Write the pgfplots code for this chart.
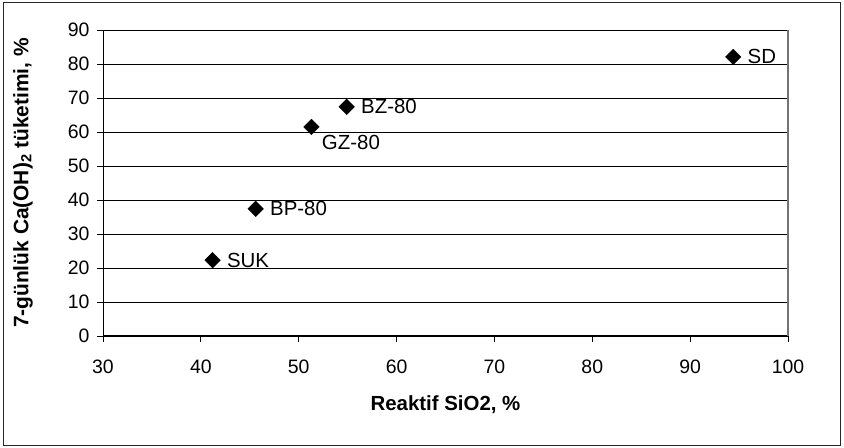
\documentclass[border=0pt]{standalone}
\usepackage{pgfplots}
\pgfplotsset{compat=1.18}
\usepackage{fontspec}
\setmainfont{Liberation Sans}
\begin{document}
\begin{tikzpicture}[x=1bp,y=1bp]
\useasboundingbox (0,0) rectangle (844,448);
\draw[line width=1bp, black!85] (3.5,2.5) rectangle (840.5,445.5);
\begin{axis}[
  at={(103bp,112bp)}, anchor=south west,
  scale only axis, width=685bp, height=306bp,
  xmin=30, xmax=100, ymin=0, ymax=90,
  xtick={30,40,...,100}, ytick={0,10,...,90},
  /pgf/number format/assume math mode=true,
  tick label style={font=\fontsize{19.5}{22}\selectfont},
  xticklabel style={yshift=-14bp},
  yticklabel style={xshift=-4bp},
  tick align=outside, tick style={black, line width=0.8bp},
  major tick length=6bp,
  xtick pos=bottom, ytick pos=left,
  ymajorgrids, grid style={black, line width=0.8bp},
  axis line style={draw=none},
  xlabel={\bfseries Reaktif SiO2, \%},
  ylabel={\bfseries 7-günlük Ca(OH)\textsubscript{2} tüketimi, \%},
  xlabel style={font=\fontsize{20.5}{22}\selectfont, at={(axis description cs:0.5,-0.2255)}, anchor=center},
  ylabel style={font=\fontsize{21}{22}\selectfont, at={(axis description cs:-0.1168,0.5)}, anchor=center},
  clip=false,
  nodes near coords, point meta=explicit symbolic,
  nodes near coords style={font=\fontsize{20.5}{22}\selectfont, anchor=west, xshift=11bp},
]
\draw[black, line width=1bp] (axis cs:30,90) -- (axis cs:30,0) -- (axis cs:100,0);
\draw[black!55, line width=1.2bp] (axis cs:100,0) -- (axis cs:100,90);
\addplot[only marks, mark=square*, mark size=5.5bp, mark options={rotate=45}, black,
  visualization depends on={value \thisrow{dy} \as \dy},
  visualization depends on={value \thisrow{dx} \as \dx},
  nodes near coords style={yshift=\dy, xshift=\dx}]
  table[meta=label] {
x y label dy dx
41.2 22.3 SUK 0 0
45.6 37.4 BP-80 0 0
51.3 61.5 GZ-80 -15.5 -4
54.9 67.4 BZ-80 0 0
94.4 82.1 SD 0 0
};
\end{axis}
\end{tikzpicture}
\end{document}
